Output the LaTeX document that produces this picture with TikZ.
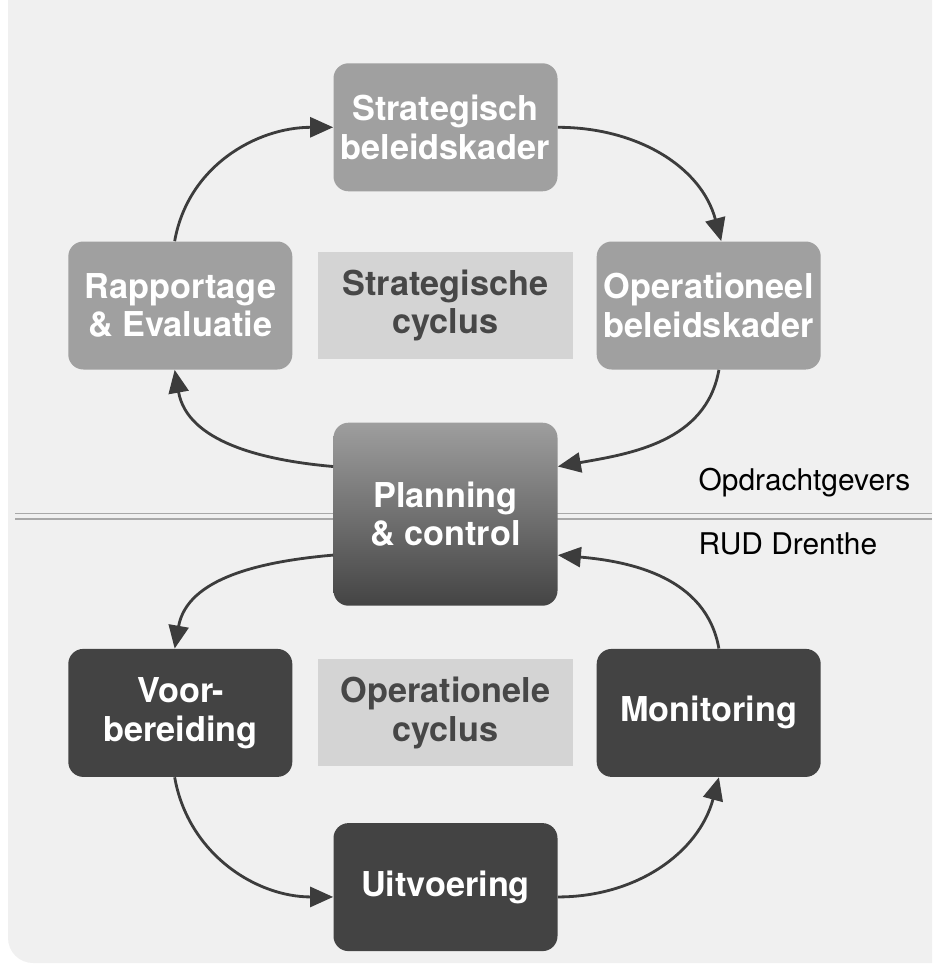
\documentclass[tikz,border=0pt]{standalone}
\usepackage{fontspec}
\setmainfont{TeX Gyre Heros}
\usetikzlibrary{arrows.meta,shapes,positioning,calc}

\definecolor{panel}{HTML}{F0F0F0}
\definecolor{uppergray}{HTML}{A0A0A0}
\definecolor{lowergray}{HTML}{434343}
\definecolor{cycfill}{HTML}{D4D4D4}
\definecolor{cyctext}{HTML}{474747}
\definecolor{arrowgray}{HTML}{3C3C3C}
\definecolor{sepgray}{HTML}{A8A8A8}
\definecolor{pcTop}{HTML}{9E9E9E}
\definecolor{pcMid}{HTML}{6C6C6C}
\definecolor{pcBottom}{HTML}{444444}

\begin{document}
\begin{tikzpicture}[node distance=1.2cm,
    box/.style={rectangle,rounded corners=0.3cm,text=white,align=center,inner sep=0pt,
        font=\bfseries\fontsize{19.5}{22}\selectfont,minimum width=4.48cm,minimum height=2.56cm},
    upper/.style={box,fill=uppergray},
    lower/.style={box,fill=lowergray},
    plan/.style={box,minimum height=3.66cm,top color=pcTop,middle color=pcMid,bottom color=pcBottom},
    cycbox/.style={rectangle,fill=cycfill,text=cyctext,align=center,inner sep=0pt,
        font=\bfseries\fontsize{19.5}{22}\selectfont,minimum width=5.1cm,minimum height=2.14cm},
    side/.style={anchor=west,font=\fontsize{17}{19}\selectfont},
    conn/.style={-{Triangle[length=0.46cm,width=0.4cm]},draw=arrowgray,line width=1.6pt}]
    \useasboundingbox (0,0) rectangle (18.64,-19.4);
    % background panel
    \fill[panel] (18.64,0) -- (0.16,0) -- (0.16,-10) [rounded corners=0.5cm] -- (0.16,-19.26)
        [sharp corners] -- (18.64,-19.26) -- cycle;
    % separator
    \coordinate (sepL) at (0.3,-10.32);
    \coordinate (sepR) at (18.64,-10.32);
    \draw[sepgray,line width=0.035cm,double=panel,double distance=0.07cm] (sepL) -- (sepR);
    \node[side] (opd) at (13.85,-9.66) {Opdrachtgevers};
    \node[side] (rud) at (13.85,-10.88) {RUD Drenthe};

    % strategische cyclus
    \node[cycbox](sc) at (8.91,-6.11){Strategische\\cyclus};
    \node[upper](re)[left=0.5cm of sc]{Rapportage\\\& Evaluatie};
    \node[upper](ob)[right=0.46cm of sc]{Operationeel\\beleidskader};
    \node[upper](sb)[above=of sc]{Strategisch\\beleidskader};
    \node[plan](pc)[below=1.26cm of sc]{Planning\\\& control};

    % operationele cyclus
    \node[cycbox](oc)[below=1.06cm of pc]{Operationele\\cyclus};
    \node[lower](vb)[left=0.5cm of oc]{Voor-\\bereiding};
    \node[lower](mo)[right=0.46cm of oc]{Monitoring};
    \node[lower](ui)[below=1.12cm of oc]{Uitvoering};

    \path(re.95) edge[conn,out=80,in=180] (sb.west);
    \path(sb.east) edge[conn,out=0,in=105] (ob.79);
    \path(ob.279) edge[conn,out=-100,in=10] (pc.23);
    \path(pc.157) edge[conn,out=175,in=-80] (re.265);
    \path(pc.200) edge[conn,out=185,in=80] (vb.95);
    \path(vb.265) edge[conn,out=-80,in=180] (ui.185);
    \path(ui.-5) edge[conn,out=0,in=-105] (mo.279);
    \path(mo.81) edge[conn,out=100,in=-5] (pc.-20);
\end{tikzpicture}
\end{document}
